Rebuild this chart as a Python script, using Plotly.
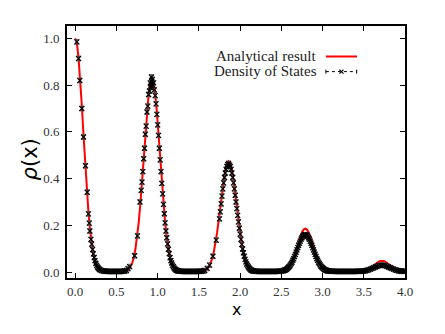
import plotly.graph_objects as go

# analytical curve rho(x)
x_exact = [0.00, 0.02, 0.04, 0.06, 0.08, 0.10, 0.12, 0.14, 0.16, 0.18, 0.20, 0.22, 0.24, 0.26, 0.28, 0.30, 0.32, 0.34, 0.36, 0.42, 0.50,
           0.59, 0.61, 0.63, 0.65, 0.67, 0.69, 0.71, 0.73, 0.75, 0.77, 0.79, 0.81, 0.83, 0.85, 0.87, 0.89, 0.91, 0.93,
           0.95, 0.97, 0.99, 1.01, 1.03, 1.05, 1.07, 1.09, 1.11, 1.13, 1.15, 1.17, 1.19, 1.21, 1.23, 1.25, 1.27, 1.38, 1.45,
           1.52, 1.54, 1.56, 1.58, 1.60, 1.62, 1.64, 1.66, 1.68, 1.70, 1.72, 1.74, 1.76, 1.78, 1.80, 1.82, 1.84, 1.86,
           1.88, 1.90, 1.92, 1.94, 1.96, 1.98, 2.00, 2.02, 2.04, 2.06, 2.08, 2.10, 2.12, 2.14, 2.16, 2.18, 2.20, 2.32, 2.40,
           2.49, 2.51, 2.53, 2.55, 2.57, 2.59, 2.61, 2.63, 2.65, 2.67, 2.69, 2.71, 2.73, 2.75, 2.77, 2.79,
           2.81, 2.83, 2.85, 2.87, 2.89, 2.91, 2.93, 2.95, 2.97, 2.99, 3.01, 3.03, 3.05, 3.07, 3.09, 3.20, 3.30,
           3.44, 3.46, 3.48, 3.50, 3.52, 3.54, 3.56, 3.58, 3.60, 3.62, 3.64, 3.66, 3.68, 3.70, 3.72,
           3.74, 3.76, 3.78, 3.80, 3.82, 3.84, 3.86, 3.88, 3.90, 3.92, 3.94, 3.96, 3.98, 4.00]
rho_exact = [1.000, 0.979, 0.918, 0.826, 0.712, 0.588, 0.465, 0.353, 0.257, 0.179, 0.119, 0.076, 0.047, 0.028, 0.016, 0.008, 0.004, 0.002, 0.001, 0.000, 0.000,
             0.002, 0.004, 0.007, 0.013, 0.023, 0.039, 0.063, 0.099, 0.149, 0.213, 0.293, 0.386, 0.488, 0.591, 0.686, 0.762, 0.813, 0.830,
             0.813, 0.762, 0.686, 0.591, 0.488, 0.386, 0.293, 0.213, 0.149, 0.099, 0.063, 0.039, 0.023, 0.013, 0.007, 0.004, 0.002, 0.000, 0.000,
             0.001, 0.002, 0.004, 0.007, 0.013, 0.022, 0.036, 0.057, 0.085, 0.122, 0.168, 0.221, 0.279, 0.338, 0.392, 0.436, 0.465, 0.475,
             0.465, 0.436, 0.392, 0.338, 0.279, 0.221, 0.168, 0.122, 0.085, 0.057, 0.036, 0.022, 0.013, 0.007, 0.004, 0.002, 0.001, 0.000, 0.000,
             0.002, 0.003, 0.005, 0.009, 0.014, 0.022, 0.033, 0.048, 0.066, 0.087, 0.109, 0.132, 0.154, 0.171, 0.182, 0.186,
             0.182, 0.171, 0.154, 0.132, 0.109, 0.087, 0.066, 0.048, 0.033, 0.022, 0.014, 0.009, 0.005, 0.003, 0.002, 0.000, 0.000,
             0.001, 0.001, 0.002, 0.004, 0.006, 0.009, 0.013, 0.017, 0.023, 0.029, 0.035, 0.040, 0.045, 0.048, 0.049,
             0.048, 0.045, 0.040, 0.035, 0.029, 0.023, 0.017, 0.013, 0.009, 0.006, 0.004, 0.002, 0.001, 0.001]

# density of states points (black crosses with error bars)
x_dos = [0.02, 0.04, 0.056, 0.08, 0.10, 0.124, 0.145, 0.16, 0.17, 0.177, 0.19,
         0.20, 0.21, 0.22, 0.23, 0.24, 0.25, 0.26, 0.27, 0.28, 0.29, 0.30,
         0.32, 0.34, 0.36, 0.38, 0.40, 0.42, 0.44, 0.46, 0.48, 0.50, 0.52, 0.54, 0.56, 0.58, 0.60, 0.62,
         0.64, 0.66, 0.72, 0.755, 0.785, 0.80,
         0.81, 0.82, 0.83, 0.84, 0.85, 0.86, 0.87, 0.88, 0.89, 0.90, 0.91, 0.915, 0.92, 0.925, 0.93, 0.935, 0.94, 0.95, 0.96,
         0.97, 0.98, 0.99, 1.00, 1.01, 1.02, 1.03, 1.04, 1.05, 1.06, 1.07, 1.08, 1.09, 1.10, 1.11,
         1.12, 1.13, 1.14, 1.15, 1.16, 1.17, 1.18, 1.19, 1.20, 1.21, 1.22, 1.23, 1.24, 1.25,
         1.27, 1.29, 1.31, 1.33, 1.35, 1.37, 1.39, 1.41, 1.43, 1.45, 1.47, 1.49, 1.51, 1.53, 1.55, 1.57,
         1.60, 1.63, 1.67, 1.71, 1.75,
         1.76, 1.77, 1.78, 1.79, 1.80, 1.81, 1.82, 1.83, 1.84, 1.85, 1.86,
         1.87, 1.88, 1.89, 1.90, 1.91, 1.92, 1.93, 1.94, 1.95, 1.96,
         1.97, 1.98, 1.99, 2.00, 2.01, 2.02, 2.03, 2.04, 2.05, 2.06,
         2.07, 2.08, 2.09, 2.10, 2.11, 2.12, 2.13, 2.14, 2.15, 2.16,
         2.18, 2.20, 2.22, 2.24, 2.26, 2.28, 2.30, 2.32, 2.34, 2.36, 2.38, 2.40, 2.42, 2.44, 2.46, 2.48, 2.50,
         2.52, 2.53, 2.54, 2.55, 2.56, 2.57, 2.58, 2.59, 2.60, 2.61, 2.62, 2.63, 2.64, 2.65,
         2.66, 2.67, 2.68, 2.69, 2.70, 2.71, 2.72, 2.73, 2.74, 2.75, 2.76, 2.77, 2.78, 2.79,
         2.80, 2.81, 2.82, 2.83, 2.84, 2.85, 2.86, 2.87, 2.88, 2.89, 2.90, 2.91, 2.92, 2.93, 2.94,
         2.95, 2.96, 2.97, 2.98, 2.99, 3.00, 3.01, 3.02, 3.03, 3.04, 3.05, 3.06, 3.07, 3.08,
         3.10, 3.12, 3.14, 3.16, 3.18, 3.20, 3.22, 3.24, 3.26, 3.28, 3.30, 3.32, 3.34, 3.36, 3.38, 3.40, 3.42, 3.44,
         3.46, 3.48, 3.50, 3.52, 3.54, 3.56, 3.58, 3.60, 3.62, 3.64, 3.66, 3.68, 3.70, 3.72,
         3.74, 3.76, 3.78, 3.80, 3.82, 3.84, 3.86, 3.88, 3.90, 3.92, 3.94, 3.96, 3.98, 4.00]
rho_dos = [0.985, 0.914, 0.820, 0.700, 0.578, 0.455, 0.342, 0.249, 0.210, 0.176, 0.140,
           0.120, 0.097, 0.078, 0.062, 0.049, 0.038, 0.029, 0.022, 0.017, 0.013, 0.010,
           0.007, 0.005, 0.004, 0.004, 0.003, 0.003, 0.003, 0.003, 0.003, 0.003, 0.003, 0.003, 0.003, 0.004, 0.005, 0.007,
           0.015, 0.024, 0.070, 0.155, 0.300, 0.350,
           0.385, 0.430, 0.485, 0.530, 0.590, 0.625, 0.685, 0.710, 0.760, 0.775, 0.810, 0.790, 0.800, 0.835, 0.815, 0.825, 0.800, 0.810, 0.780,
           0.755, 0.720, 0.675, 0.630, 0.585, 0.530, 0.480, 0.430, 0.380, 0.335, 0.290, 0.250, 0.211, 0.176, 0.147,
           0.121, 0.098, 0.079, 0.062, 0.049, 0.039, 0.030, 0.023, 0.017, 0.013, 0.010, 0.008, 0.006, 0.005,
           0.004, 0.004, 0.003, 0.003, 0.003, 0.003, 0.003, 0.003, 0.003, 0.003, 0.003, 0.003, 0.004, 0.004, 0.005, 0.007,
           0.016, 0.030, 0.068, 0.137, 0.228,
           0.258, 0.292, 0.325, 0.356, 0.382, 0.405, 0.424, 0.440, 0.452, 0.460, 0.465,
           0.458, 0.452, 0.440, 0.424, 0.405, 0.382, 0.356, 0.329, 0.300, 0.272,
           0.243, 0.215, 0.188, 0.163, 0.140, 0.119, 0.099, 0.083, 0.068, 0.055,
           0.044, 0.035, 0.028, 0.022, 0.017, 0.013, 0.010, 0.008, 0.006, 0.005,
           0.004, 0.004, 0.003, 0.003, 0.003, 0.003, 0.003, 0.003, 0.003, 0.003, 0.003, 0.003, 0.003, 0.003, 0.004, 0.004, 0.005,
           0.006, 0.007, 0.009, 0.010, 0.012, 0.015, 0.018, 0.022, 0.026, 0.031, 0.037, 0.043, 0.051, 0.058,
           0.067, 0.076, 0.086, 0.095, 0.105, 0.115, 0.124, 0.133, 0.141, 0.147, 0.153, 0.157, 0.159, 0.160,
           0.159, 0.157, 0.153, 0.147, 0.141, 0.133, 0.124, 0.115, 0.105, 0.095, 0.086, 0.076, 0.067, 0.058, 0.051,
           0.043, 0.037, 0.031, 0.026, 0.022, 0.018, 0.015, 0.012, 0.010, 0.009, 0.007, 0.006, 0.005, 0.005,
           0.004, 0.004, 0.004, 0.003, 0.003, 0.003, 0.003, 0.003, 0.003, 0.003, 0.003, 0.003, 0.003, 0.003, 0.003, 0.003, 0.004, 0.004,
           0.004, 0.004, 0.005, 0.006, 0.008, 0.010, 0.013, 0.016, 0.019, 0.022, 0.025, 0.028, 0.029, 0.030,
           0.029, 0.028, 0.025, 0.022, 0.019, 0.016, 0.013, 0.010, 0.008, 0.006, 0.005, 0.004, 0.004, 0.004]
dos_err = 0.010

x_ticks = [0.0, 0.5, 1.0, 1.5, 2.0, 2.5, 3.0, 3.5, 4.0]
y_ticks = [0.0, 0.2, 0.4, 0.6, 0.8, 1.0]

serif = 'Liberation Serif'

fig = go.Figure()
fig.add_trace(go.Scatter(x=x_exact, y=rho_exact, mode='lines', name='Analytical result',
                         line=dict(color='#ff0000', width=2)))
fig.add_trace(go.Scatter(x=x_dos, y=rho_dos, mode='markers', name='Density of States',
                         marker=dict(symbol='x-thin', size=5, color='black', line=dict(width=1.2, color='black')),
                         error_y=dict(type='constant', value=dos_err, width=2, thickness=0.8, color='#444')))

axis_style = dict(showline=True, linewidth=2, linecolor='black', mirror='ticks', ticks='inside',
                  ticklen=5, tickwidth=1, tickcolor='black', showgrid=False, zeroline=False,
                  tickfont=dict(family=serif, size=13, color='#333333'), tickformat='.1f')
fig.update_xaxes(range=[-0.1, 4.0], tickvals=x_ticks, ticklabelstandoff=0, **axis_style)
fig.update_yaxes(range=[-0.025, 1.053], tickvals=y_ticks, ticklabelstandoff=3, **axis_style)

# the page body adds an 8px margin at top/left, so the figure is shrunk by that much
fig.update_layout(template='none', width=437, height=326, margin=dict(l=59, r=40, t=18, b=56),
                  font=dict(family=serif, size=13, color='#333333'),
                  paper_bgcolor='white', plot_bgcolor='white', showlegend=False)

# axis labels
fig.add_annotation(text='x', x=0.5, y=-0.125, xref='paper', yref='paper', showarrow=False,
                   font=dict(family='DejaVu Sans', size=16, color='black'), yanchor='middle')
fig.add_annotation(text='<i>ρ</i>(x)', x=-0.11, y=0.47, xref='paper', yref='paper', showarrow=False,
                   textangle=-90, font=dict(family='DejaVu Sans', size=21, color='black'),
                   xanchor='center', yanchor='middle')

# hand-made legend: text on the left, sample on the right
fig.add_annotation(text='Analytical result', x=0.743, y=0.881, xref='paper', yref='paper',
                   showarrow=False, xanchor='right', yanchor='middle',
                   font=dict(family=serif, size=15, color='#222'))
fig.add_annotation(text='Density of States', x=0.746, y=0.823, xref='paper', yref='paper',
                   showarrow=False, xanchor='right', yanchor='middle',
                   font=dict(family=serif, size=15, color='#222'))
fig.add_shape(type='line', xref='paper', yref='paper', x0=0.766, x1=0.858, y0=0.879, y1=0.879,
              line=dict(color='#ff0000', width=2))
fig.add_shape(type='line', xref='paper', yref='paper', x0=0.766, x1=0.857, y0=0.819, y1=0.819,
              line=dict(color='black', width=1, dash='dot'))
for xc in [0.766, 0.857]:
    fig.add_shape(type='line', xref='paper', yref='paper', x0=xc, x1=xc, y0=0.811, y1=0.827,
                  line=dict(color='black', width=1))
fig.add_shape(type='line', xref='paper', yref='paper', x0=0.806, x1=0.818, y0=0.811, y1=0.827,
              line=dict(color='black', width=1.2))
fig.add_shape(type='line', xref='paper', yref='paper', x0=0.806, x1=0.818, y0=0.827, y1=0.811,
              line=dict(color='black', width=1.2))

fig.write_html("out.html")
